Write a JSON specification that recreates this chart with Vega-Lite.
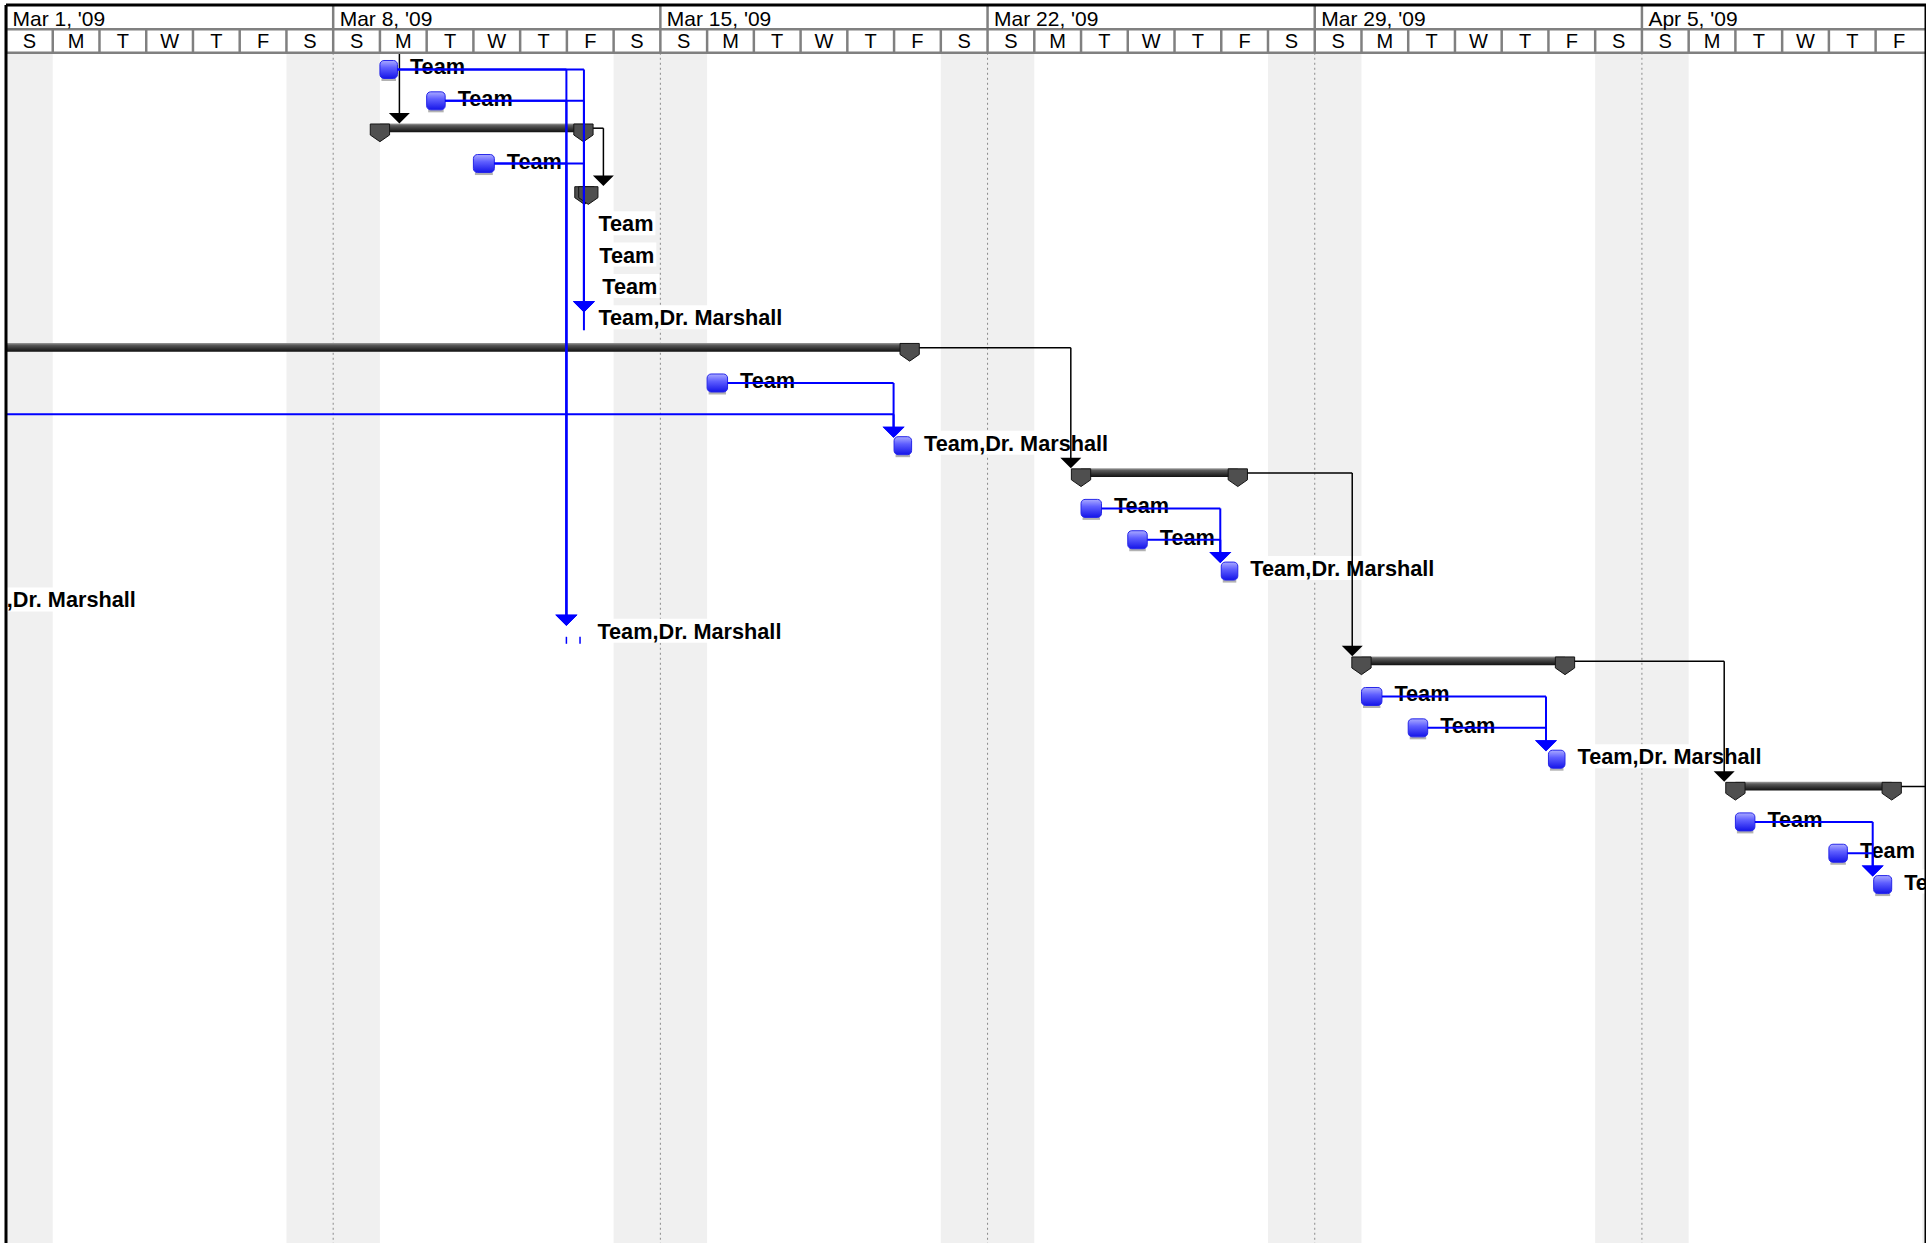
{
"$schema": "https://vega.github.io/schema/vega-lite/v6.json",
"width": 1920, "height": 1250,
"autosize": {"type": "none"},
"padding": {"left": 6, "top": 5, "right": 0, "bottom": 0},
"background": "white",
"config": {"view": {"stroke": null}, "font": "Liberation Sans", "axis": {"disable": true}},
"datasets": {
"weekends": [
{"s": "2009-02-28T00:00:00Z", "e": "2009-03-02T00:00:00Z"},
{"s": "2009-03-07T00:00:00Z", "e": "2009-03-09T00:00:00Z"},
{"s": "2009-03-14T00:00:00Z", "e": "2009-03-16T00:00:00Z"},
{"s": "2009-03-21T00:00:00Z", "e": "2009-03-23T00:00:00Z"},
{"s": "2009-03-28T00:00:00Z", "e": "2009-03-30T00:00:00Z"},
{"s": "2009-04-04T00:00:00Z", "e": "2009-04-06T00:00:00Z"},
{"s": "2009-04-11T00:00:00Z", "e": "2009-04-13T00:00:00Z"}
],
"weeks": [
{"s": "2009-03-01T00:00:00Z", "e": "2009-03-08T00:00:00Z", "label": "Mar 1, '09"},
{"s": "2009-03-08T00:00:00Z", "e": "2009-03-15T00:00:00Z", "label": "Mar 8, '09"},
{"s": "2009-03-15T00:00:00Z", "e": "2009-03-22T00:00:00Z", "label": "Mar 15, '09"},
{"s": "2009-03-22T00:00:00Z", "e": "2009-03-29T00:00:00Z", "label": "Mar 22, '09"},
{"s": "2009-03-29T00:00:00Z", "e": "2009-04-05T00:00:00Z", "label": "Mar 29, '09"},
{"s": "2009-04-05T00:00:00Z", "e": "2009-04-12T00:00:00Z", "label": "Apr 5, '09"}
],
"days": [
{"d": "2009-03-01T00:00:00Z", "l": "S"}, {"d": "2009-03-02T00:00:00Z", "l": "M"}, {"d": "2009-03-03T00:00:00Z", "l": "T"}, {"d": "2009-03-04T00:00:00Z", "l": "W"}, {"d": "2009-03-05T00:00:00Z", "l": "T"}, {"d": "2009-03-06T00:00:00Z", "l": "F"}, {"d": "2009-03-07T00:00:00Z", "l": "S"},
{"d": "2009-03-08T00:00:00Z", "l": "S"}, {"d": "2009-03-09T00:00:00Z", "l": "M"}, {"d": "2009-03-10T00:00:00Z", "l": "T"}, {"d": "2009-03-11T00:00:00Z", "l": "W"}, {"d": "2009-03-12T00:00:00Z", "l": "T"}, {"d": "2009-03-13T00:00:00Z", "l": "F"}, {"d": "2009-03-14T00:00:00Z", "l": "S"},
{"d": "2009-03-15T00:00:00Z", "l": "S"}, {"d": "2009-03-16T00:00:00Z", "l": "M"}, {"d": "2009-03-17T00:00:00Z", "l": "T"}, {"d": "2009-03-18T00:00:00Z", "l": "W"}, {"d": "2009-03-19T00:00:00Z", "l": "T"}, {"d": "2009-03-20T00:00:00Z", "l": "F"}, {"d": "2009-03-21T00:00:00Z", "l": "S"},
{"d": "2009-03-22T00:00:00Z", "l": "S"}, {"d": "2009-03-23T00:00:00Z", "l": "M"}, {"d": "2009-03-24T00:00:00Z", "l": "T"}, {"d": "2009-03-25T00:00:00Z", "l": "W"}, {"d": "2009-03-26T00:00:00Z", "l": "T"}, {"d": "2009-03-27T00:00:00Z", "l": "F"}, {"d": "2009-03-28T00:00:00Z", "l": "S"},
{"d": "2009-03-29T00:00:00Z", "l": "S"}, {"d": "2009-03-30T00:00:00Z", "l": "M"}, {"d": "2009-03-31T00:00:00Z", "l": "T"}, {"d": "2009-04-01T00:00:00Z", "l": "W"}, {"d": "2009-04-02T00:00:00Z", "l": "T"}, {"d": "2009-04-03T00:00:00Z", "l": "F"}, {"d": "2009-04-04T00:00:00Z", "l": "S"},
{"d": "2009-04-05T00:00:00Z", "l": "S"}, {"d": "2009-04-06T00:00:00Z", "l": "M"}, {"d": "2009-04-07T00:00:00Z", "l": "T"}, {"d": "2009-04-08T00:00:00Z", "l": "W"}, {"d": "2009-04-09T00:00:00Z", "l": "T"}, {"d": "2009-04-10T00:00:00Z", "l": "F"}
],
"tasks": [
{"row": 0, "start": "2009-03-09T00:00:00Z", "end": "2009-03-09T09:00:00Z", "label": "Team"},
{"row": 1, "start": "2009-03-10T00:00:00Z", "end": "2009-03-10T09:30:00Z", "label": "Team"},
{"row": 3, "start": "2009-03-11T00:00:00Z", "end": "2009-03-11T10:45:00Z", "label": "Team"},
{"row": 5, "end": "2009-03-13T09:45:00Z", "label": "Team"},
{"row": 6, "end": "2009-03-13T10:15:00Z", "label": "Team"},
{"row": 7, "end": "2009-03-13T11:45:00Z", "label": "Team"},
{"row": 8, "end": "2009-03-13T09:45:00Z", "label": "Team,Dr. Marshall"},
{"row": 10, "start": "2009-03-16T00:00:00Z", "end": "2009-03-16T10:30:00Z", "label": "Team"},
{"row": 11, "start": "2009-02-24T00:00:00Z", "end": "2009-02-24T09:00:00Z"},
{"row": 12, "start": "2009-03-20T00:00:00Z", "end": "2009-03-20T09:00:00Z", "label": "Team,Dr. Marshall"},
{"row": 14, "start": "2009-03-24T00:00:00Z", "end": "2009-03-24T10:30:00Z", "label": "Team"},
{"row": 15, "start": "2009-03-25T00:00:00Z", "end": "2009-03-25T10:00:00Z", "label": "Team"},
{"row": 16, "start": "2009-03-27T00:00:00Z", "end": "2009-03-27T08:30:00Z", "label": "Team,Dr. Marshall"},
{"row": 17, "end": "2009-02-27T13:45:00Z", "label": "Team,Dr. Marshall"},
{"row": 18, "end": "2009-03-13T09:15:00Z", "label": "Team,Dr. Marshall"},
{"row": 20, "start": "2009-03-30T00:00:00Z", "end": "2009-03-30T10:30:00Z", "label": "Team"},
{"row": 21, "start": "2009-03-31T00:00:00Z", "end": "2009-03-31T10:00:00Z", "label": "Team"},
{"row": 22, "start": "2009-04-03T00:00:00Z", "end": "2009-04-03T08:30:00Z", "label": "Team,Dr. Marshall"},
{"row": 24, "start": "2009-04-07T00:00:00Z", "end": "2009-04-07T10:00:00Z", "label": "Team"},
{"row": 25, "start": "2009-04-09T00:00:00Z", "end": "2009-04-09T09:30:00Z", "label": "Team"},
{"row": 26, "start": "2009-04-09T23:00:00Z", "end": "2009-04-10T08:15:00Z", "label": "Team"}
],
"summaries": [
{"row": 2, "start": "2009-03-09T00:00:00Z", "end": "2009-03-13T08:30:00Z"},
{"row": 4, "start": "2009-03-13T09:00:00Z", "end": "2009-03-13T11:00:00Z"},
{"row": 9, "start": "2009-02-16T00:00:00Z", "end": "2009-03-20T08:00:00Z"},
{"row": 13, "start": "2009-03-24T00:00:00Z", "end": "2009-03-27T08:30:00Z"},
{"row": 19, "start": "2009-03-30T00:00:00Z", "end": "2009-04-03T08:30:00Z"},
{"row": 23, "start": "2009-04-07T00:00:00Z", "end": "2009-04-10T08:15:00Z"}
],
"klinks": [
{"from_row": -1, "to_row": 2, "from": "2009-03-09T10:00:00Z", "turn": "2009-03-09T10:00:00Z"},
{"from_row": 2, "to_row": 4, "from": "2009-03-13T08:30:00Z", "turn": "2009-03-13T18:45:00Z"},
{"from_row": 9, "to_row": 13, "from": "2009-03-20T08:00:00Z", "turn": "2009-03-23T18:45:00Z"},
{"from_row": 13, "to_row": 19, "from": "2009-03-27T08:30:00Z", "turn": "2009-03-29T19:15:00Z"},
{"from_row": 19, "to_row": 23, "from": "2009-04-03T08:30:00Z", "turn": "2009-04-06T18:15:00Z"},
{"from_row": 23, "to_row": 27, "from": "2009-04-10T08:15:00Z", "turn": "2009-04-12T00:00:00Z"}
],
"blinks": [
{"from_row": 0, "to_row": 18, "from": "2009-03-09T09:00:00Z", "turn": "2009-03-12T23:45:00Z"},
{"from_row": 0, "to_row": 8, "from": "2009-03-09T09:00:00Z", "turn": "2009-03-13T08:45:00Z"},
{"from_row": 1, "to_row": 18, "from": "2009-03-10T09:30:00Z", "turn": "2009-03-12T23:45:00Z"},
{"from_row": 1, "to_row": 8, "from": "2009-03-10T09:30:00Z", "turn": "2009-03-13T08:45:00Z"},
{"from_row": 3, "to_row": 18, "from": "2009-03-11T10:45:00Z", "turn": "2009-03-12T23:45:00Z"},
{"from_row": 3, "to_row": 8, "from": "2009-03-11T10:45:00Z", "turn": "2009-03-13T08:45:00Z"},
{"from_row": 10, "to_row": 12, "from": "2009-03-16T10:30:00Z", "turn": "2009-03-19T23:45:00Z"},
{"from_row": 11, "to_row": 12, "from": "2009-02-24T09:00:00Z", "turn": "2009-03-19T23:45:00Z"},
{"from_row": 14, "to_row": 16, "from": "2009-03-24T10:30:00Z", "turn": "2009-03-26T23:30:00Z"},
{"from_row": 15, "to_row": 16, "from": "2009-03-25T10:00:00Z", "turn": "2009-03-26T23:30:00Z"},
{"from_row": 20, "to_row": 22, "from": "2009-03-30T10:30:00Z", "turn": "2009-04-02T22:45:00Z"},
{"from_row": 21, "to_row": 22, "from": "2009-03-31T10:00:00Z", "turn": "2009-04-02T22:45:00Z"},
{"from_row": 24, "to_row": 26, "from": "2009-04-07T10:00:00Z", "turn": "2009-04-09T22:30:00Z"},
{"from_row": 25, "to_row": 26, "from": "2009-04-09T09:30:00Z", "turn": "2009-04-09T22:30:00Z"}
],
"ticks": [
{"row": 8, "t": "2009-03-13T08:45:00Z", "kind": "stub"},
{"row": 18, "t": "2009-03-12T23:45:00Z", "kind": "tick"},
{"row": 18, "t": "2009-03-13T06:45:00Z", "kind": "tick"}
]
},
"layer": [
{"data": {"name": "weekends"}, "mark": {"type": "rect", "clip": true, "color": "#f0f0f0"},
 "encoding": {"x": {"field": "s", "type": "temporal", "axis": null, "scale": {"type": "utc", "domain": [{"year": 2009, "month": 3, "date": 1, "utc": true}, {"year": 2009, "month": 4, "date": 11, "hours": 1, "minutes": 52, "utc": true}], "nice": false}},
  "x2": {"field": "e"},
  "y": {"datum": -0.533, "type": "quantitative", "axis": null, "scale": {"domain": [-2.057, 37.815], "reverse": true, "nice": false, "zero": false}},
  "y2": {"datum": 37.815}}},
{"data": {"name": "weeks"}, "mark": {"type": "rule", "clip": true, "color": "#8a8a8a", "strokeWidth": 1, "strokeDash": [2, 3]},
 "encoding": {"x": {"field": "s", "type": "temporal"}, "y": {"datum": -0.533, "type": "quantitative"}, "y2": {"datum": 37.815}}},
{"data": {"name": "tasks"}, "transform": [{"filter": "datum.label === 'Team'"}],
 "mark": {"type": "rect", "clip": true, "color": "white", "xOffset": 12, "x2Offset": 69.5, "yOffset": -15, "y2Offset": 9},
 "encoding": {"x": {"field": "end", "type": "temporal"}, "x2": {"field": "end"}, "y": {"field": "row", "type": "quantitative"}, "y2": {"field": "row"}}},
{"data": {"name": "tasks"}, "transform": [{"filter": "datum.label === 'Team,Dr. Marshall'"}],
 "mark": {"type": "rect", "clip": true, "color": "white", "xOffset": 12, "x2Offset": 200, "yOffset": -15, "y2Offset": 9},
 "encoding": {"x": {"field": "end", "type": "temporal"}, "x2": {"field": "end"}, "y": {"field": "row", "type": "quantitative"}, "y2": {"field": "row"}}},
{"data": {"name": "tasks"}, "transform": [{"filter": "isValid(datum.label)"}],
 "mark": {"type": "text", "clip": true, "align": "left", "baseline": "alphabetic", "dx": 12.5, "yOffset": 5, "font": "Liberation Sans", "fontSize": 21.7, "fontWeight": "bold", "color": "black"},
 "encoding": {"x": {"field": "end", "type": "temporal"}, "y": {"field": "row", "type": "quantitative"}, "text": {"field": "label"}}},
{"data": {"name": "summaries"},
 "mark": {"type": "rect", "clip": true, "yOffset": -8.7, "y2Offset": 0,
  "fill": {"gradient": "linear", "x1": 0, "y1": 0, "x2": 0, "y2": 1, "stops": [{"offset": 0, "color": "#a0a0a0"}, {"offset": 0.25, "color": "#5a5a5a"}, {"offset": 0.6, "color": "#363636"}, {"offset": 1, "color": "#111111"}]}},
 "encoding": {"x": {"field": "start", "type": "temporal"}, "x2": {"field": "end"}, "y": {"field": "row", "type": "quantitative"}, "y2": {"field": "row"}}},
{"data": {"name": "summaries"},
 "mark": {"type": "point", "clip": true, "filled": true, "shape": "M-1,-0.917L1,-0.917L1,0.223L0,0.917L-1,0.223Z", "size": 372, "fill": "#4f4f4f", "stroke": "#151515", "strokeWidth": 1, "opacity": 1, "yOffset": 0.65},
 "encoding": {"x": {"field": "start", "type": "temporal"}, "y": {"field": "row", "type": "quantitative"}}},
{"data": {"name": "summaries"},
 "mark": {"type": "point", "clip": true, "filled": true, "shape": "M-1,-0.917L1,-0.917L1,0.223L0,0.917L-1,0.223Z", "size": 372, "fill": "#4f4f4f", "stroke": "#151515", "strokeWidth": 1, "opacity": 1, "yOffset": 0.65},
 "encoding": {"x": {"field": "end", "type": "temporal"}, "y": {"field": "row", "type": "quantitative"}}},
{"data": {"name": "tasks"},
 "mark": {"type": "rect", "clip": true, "color": "#b2b2b2", "xOffset": 1.5, "x2Offset": -1.5, "yOffset": 9, "y2Offset": 11.5},
 "encoding": {"x": {"field": "start", "type": "temporal"}, "x2": {"field": "end"}, "y": {"field": "row", "type": "quantitative"}, "y2": {"field": "row"}}},
{"data": {"name": "tasks"},
 "mark": {"type": "rect", "clip": true, "cornerRadius": 4, "yOffset": -9, "y2Offset": 9, "stroke": "#2525e8", "strokeWidth": 1,
  "fill": {"gradient": "linear", "x1": 0, "y1": 0, "x2": 0, "y2": 1, "stops": [{"offset": 0, "color": "#aaaaff"}, {"offset": 0.4, "color": "#5f5fff"}, {"offset": 1, "color": "#1515e8"}]}},
 "encoding": {"x": {"field": "start", "type": "temporal"}, "x2": {"field": "end"}, "y": {"field": "row", "type": "quantitative"}, "y2": {"field": "row"}}},
{"data": {"name": "klinks"},
 "mark": {"type": "rule", "clip": true, "color": "black", "strokeWidth": 1.5, "xOffset": 9.65, "yOffset": -4},
 "encoding": {"x": {"field": "from", "type": "temporal"}, "x2": {"field": "turn"}, "y": {"field": "from_row", "type": "quantitative"}}},
{"data": {"name": "klinks"},
 "mark": {"type": "rule", "clip": true, "color": "black", "strokeWidth": 1.5, "yOffset": -4, "y2Offset": -12},
 "encoding": {"x": {"field": "turn", "type": "temporal"}, "y": {"field": "from_row", "type": "quantitative"}, "y2": {"field": "to_row"}}},
{"data": {"name": "klinks"},
 "mark": {"type": "point", "clip": true, "filled": true, "shape": "M-1,-0.5L1,-0.5L0,0.5Z", "size": 441, "fill": "black", "opacity": 1, "strokeWidth": 0, "yOffset": -14.05},
 "encoding": {"x": {"field": "turn", "type": "temporal"}, "y": {"field": "to_row", "type": "quantitative"}}},
{"data": {"name": "blinks"},
 "mark": {"type": "rule", "clip": true, "color": "#0000ff", "strokeWidth": 2},
 "encoding": {"x": {"field": "from", "type": "temporal"}, "x2": {"field": "turn"}, "y": {"field": "from_row", "type": "quantitative"}}},
{"data": {"name": "blinks"},
 "mark": {"type": "rule", "clip": true, "color": "#0000ff", "strokeWidth": 2, "y2Offset": -12},
 "encoding": {"x": {"field": "turn", "type": "temporal"}, "y": {"field": "from_row", "type": "quantitative"}, "y2": {"field": "to_row"}}},
{"data": {"name": "blinks"},
 "mark": {"type": "point", "clip": true, "filled": true, "shape": "M-1,-0.5L1,-0.5L0,0.5Z", "size": 484, "fill": "#0000ff", "opacity": 1, "strokeWidth": 0, "yOffset": -13.5},
 "encoding": {"x": {"field": "turn", "type": "temporal"}, "y": {"field": "to_row", "type": "quantitative"}}},
{"data": {"name": "ticks"}, "transform": [{"filter": "datum.kind === 'stub'"}],
 "mark": {"type": "rule", "clip": true, "color": "#0000ff", "strokeWidth": 2, "yOffset": -9, "y2Offset": 10},
 "encoding": {"x": {"field": "t", "type": "temporal"}, "y": {"field": "row", "type": "quantitative"}, "y2": {"field": "row"}}},
{"data": {"name": "ticks"}, "transform": [{"filter": "datum.kind === 'tick'"}],
 "mark": {"type": "rule", "clip": true, "color": "#0000ff", "strokeWidth": 1.5, "yOffset": 3, "y2Offset": 10},
 "encoding": {"x": {"field": "t", "type": "temporal"}, "y": {"field": "row", "type": "quantitative"}, "y2": {"field": "row"}}},
{"data": {"name": "weeks"}, "mark": {"type": "rect", "clip": true, "color": "white"},
 "encoding": {"x": {"field": "s", "type": "temporal"}, "x2": {"field": "e"}, "y": {"datum": -2.057, "type": "quantitative"}, "y2": {"datum": -0.533}}},
{"data": {"name": "weeks"}, "mark": {"type": "rule", "clip": true, "color": "#808080", "strokeWidth": 2.5},
 "encoding": {"x": {"field": "s", "type": "temporal"}, "y": {"datum": -2.057, "type": "quantitative"}, "y2": {"datum": -1.282}}},
{"data": {"name": "days"}, "mark": {"type": "rule", "clip": true, "color": "#808080", "strokeWidth": 2.5},
 "encoding": {"x": {"field": "d", "type": "temporal"}, "y": {"datum": -1.282, "type": "quantitative"}, "y2": {"datum": -0.533}}},
{"data": {"values": [{"h": -1.282}, {"h": -0.533}]}, "mark": {"type": "rule", "color": "#808080", "strokeWidth": 2.5},
 "encoding": {"y": {"field": "h", "type": "quantitative"}}},
{"data": {"name": "weeks"}, "mark": {"type": "text", "clip": true, "align": "left", "baseline": "alphabetic", "dx": 6.5, "font": "Liberation Sans", "fontSize": 21, "color": "black"},
 "encoding": {"x": {"field": "s", "type": "temporal"}, "y": {"datum": -1.3876, "type": "quantitative"}, "text": {"field": "label"}}},
{"data": {"name": "days"}, "mark": {"type": "text", "clip": true, "align": "center", "baseline": "alphabetic", "dx": 23.37, "font": "Liberation Sans", "fontSize": 20, "color": "black"},
 "encoding": {"x": {"field": "d", "type": "temporal"}, "y": {"datum": -0.6858, "type": "quantitative"}, "text": {"field": "l"}}},
{"data": {"values": [{"edge": "top"}]}, "mark": {"type": "rule", "color": "black", "strokeWidth": 3},
 "encoding": {"y": {"datum": -2.057, "type": "quantitative"}}},
{"data": {"values": [{"edge": "left"}]}, "mark": {"type": "rule", "color": "black", "strokeWidth": 3},
 "encoding": {"x": {"datum": {"year": 2009, "month": 3, "date": 1, "utc": true}, "type": "temporal"}}},
{"data": {"values": [{"edge": "right"}]}, "mark": {"type": "rule", "color": "black", "strokeWidth": 3},
 "encoding": {"x": {"datum": {"year": 2009, "month": 4, "date": 11, "hours": 1, "minutes": 52, "utc": true}, "type": "temporal"}}}
]
}
